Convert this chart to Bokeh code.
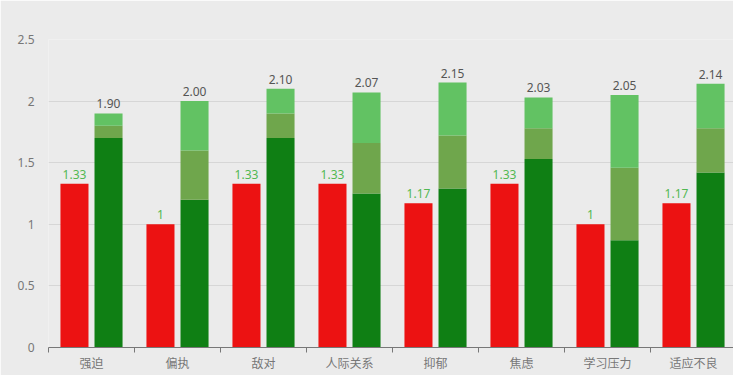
from bokeh.plotting import figure
from bokeh.models import ColumnDataSource, FixedTicker, Range1d, LabelSet
from bokeh.core.properties import value
from bokeh.embed import file_html
from bokeh.resources import INLINE

categories = ["强迫", "偏执", "敌对", "人际关系", "抑郁", "焦虑", "学习压力", "适应不良"]
red_values = [1.33, 1.0, 1.33, 1.33, 1.17, 1.33, 1.0, 1.17]
red_labels = ["1.33", "1", "1.33", "1.33", "1.17", "1.33", "1", "1.17"]
green_dark = [1.70, 1.20, 1.70, 1.25, 1.29, 1.53, 0.87, 1.42]
green_mid = [0.10, 0.40, 0.20, 0.41, 0.43, 0.25, 0.59, 0.36]
green_light = [0.10, 0.40, 0.20, 0.41, 0.43, 0.25, 0.59, 0.36]
green_totals = [1.90, 2.00, 2.10, 2.07, 2.15, 2.03, 2.05, 2.14]
y_ticks = [0, 0.5, 1, 1.5, 2, 2.5]

BG = "#ebebeb"
n = len(categories)
centers = [i + 0.5 for i in range(n)]
red_x = [c - 0.198 for c in centers]
green_x = [c + 0.198 for c in centers]
mid_top = [a + b for a, b in zip(green_dark, green_mid)]
light_top = [a + b for a, b in zip(mid_top, green_light)]

src = ColumnDataSource(dict(
    red_x=red_x, green_x=green_x, red=red_values, red_lab=red_labels,
    dark=green_dark, mid_top=mid_top, light_top=light_top,
    total=green_totals, total_lab=["%.2f" % v for v in green_totals],
))

p = figure(width=733, height=375, output_backend="svg", toolbar_location=None,
           x_range=Range1d(0, 7.965), y_range=Range1d(0, 2.5),
           min_border_left=48, min_border_right=0, min_border_top=39, min_border_bottom=28,
           background_fill_color=BG, border_fill_color=BG)
p.outline_line_color = None

p.vbar(x="red_x", width=0.326, bottom=0, top="red", source=src,
       fill_color="#ec1212", line_color=None)
p.vbar(x="green_x", width=0.326, bottom=0, top="dark", source=src,
       fill_color="#0f7f14", line_color=None)
p.vbar(x="green_x", width=0.326, bottom="dark", top="mid_top", source=src,
       fill_color="#6fa64c", line_color=None)
p.vbar(x="green_x", width=0.326, bottom="mid_top", top="light_top", source=src,
       fill_color="#62c263", line_color=None)

red_lbl = LabelSet(x="red_x", y="red", text="red_lab", source=src, y_offset=5,
                   text_align="center", text_baseline="bottom", text_font_size="12px",
                   text_color="#52b852", text_font=value("Noto Sans"))
green_lbl = LabelSet(x="green_x", y="total", text="total_lab", source=src, y_offset=5,
                     text_align="center", text_baseline="bottom", text_font_size="12px",
                     text_color="#555555", text_font=value("Noto Sans"))
p.add_layout(red_lbl)
p.add_layout(green_lbl)

# x axis: labels at centers, ticks at boundaries
p.xaxis.ticker = FixedTicker(ticks=centers, minor_ticks=list(range(n + 1)))
p.xaxis.major_label_overrides = {c: cat for c, cat in zip(centers, categories)}
p.xaxis.major_tick_out = 0
p.xaxis.major_tick_in = 0
p.xaxis.minor_tick_out = 5
p.xaxis.minor_tick_in = 0
p.xaxis.minor_tick_line_color = "#777777"
p.xaxis.axis_line_color = "#777777"
p.xaxis.major_label_text_color = "#777777"
p.xaxis.major_label_text_font = "Noto Sans CJK SC"
p.xaxis.major_label_text_font_size = "12px"
p.xaxis.major_label_standoff = 1
p.xgrid.grid_line_color = None

p.yaxis.ticker = FixedTicker(ticks=y_ticks)
p.yaxis.major_label_overrides = {0: "0", 0.5: "0.5", 1: "1", 1.5: "1.5", 2: "2", 2.5: "2.5"}
p.yaxis.axis_line_color = None
p.yaxis.major_tick_line_color = None
p.yaxis.minor_tick_line_color = None
p.yaxis.major_label_text_color = "#777777"
p.yaxis.major_label_text_font = "Noto Sans"
p.yaxis.major_label_text_font_size = "12px"
p.yaxis.major_label_standoff = 8
p.ygrid.grid_line_color = "#d6d6d6"
p.ygrid.ticker = FixedTicker(ticks=[0.5, 1, 1.5, 2, 2.5])

html = file_html(p, INLINE)
html = html.replace("<body>", '<body style="background:%s">' % BG, 1)
open("out.html", "w").write(html)
